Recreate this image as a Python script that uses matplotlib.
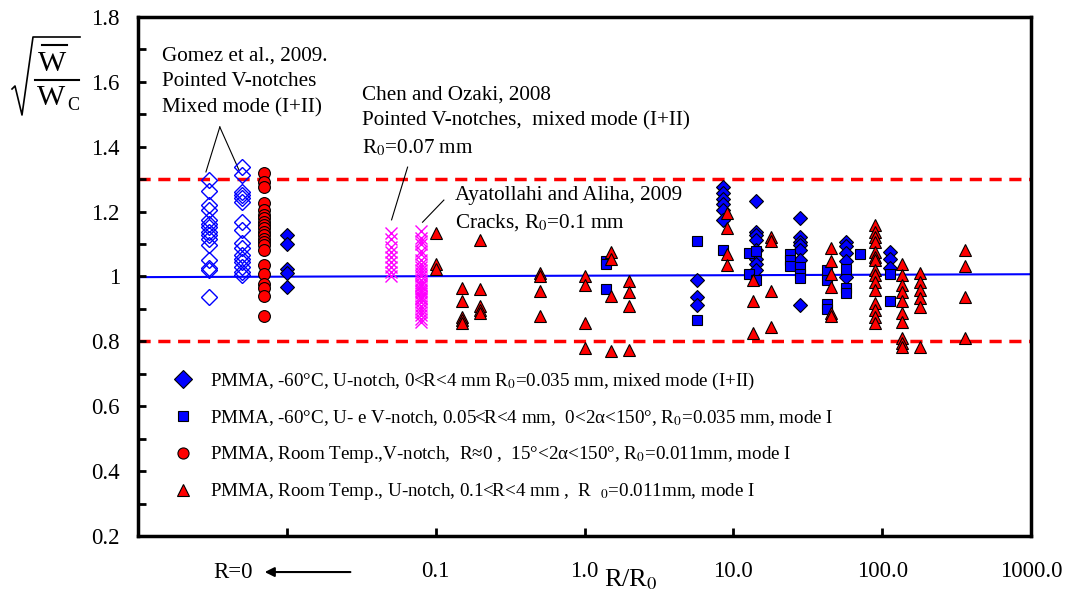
import numpy as np
import matplotlib.pyplot as plt
from matplotlib.lines import Line2D

plt.rcParams['font.family'] = ['Liberation Serif', 'DejaVu Serif']
plt.rcParams['mathtext.fontset'] = 'stix'

# --- data (x = R/R0, columns of sqrt(W/Wc) values) ---
# Gomez et al. 2009, pointed V-notches (plotted in the R=0 region)
gomez_cols = [0.003, 0.005]
gomez_vals = [
    [1.298, 1.265, 1.22, 1.205, 1.174, 1.163, 1.153, 1.138, 1.127, 1.117, 1.096, 1.05, 1.019, 1.025, 0.937],
    [1.337, 1.313, 1.261, 1.251, 1.241, 1.231, 1.169, 1.143, 1.102, 1.089, 1.066, 1.055, 1.044, 1.03, 1.014, 1.004],
]

# PMMA room temp, V-notch R~0 (circles)
circ_cols = [0.007]
circ_vals = [
    [1.318, 1.292, 1.277, 1.226, 1.205, 1.19, 1.179, 1.169, 1.159, 1.148, 1.138, 1.127, 1.117,
     1.107, 1.096, 1.081, 1.035, 1.009, 0.978, 0.963, 0.941, 0.879],
]

# Chen and Ozaki 2008 / Ayatollahi and Aliha 2009 (crosses)
cross_cols = [0.05, 0.08]
cross_vals = [
    [1.135, 1.117, 1.091, 1.076, 1.06, 1.044, 1.03, 1.014, 1.0],
    [1.14, 1.12, 1.11, 1.10, 1.08, 1.07, 1.05, 1.04, 1.03, 1.02, 1.01, 1.00, 0.99, 0.98, 0.975,
     0.97, 0.96, 0.955, 0.95, 0.94, 0.935, 0.93, 0.92, 0.91, 0.90, 0.89, 0.88, 0.87, 0.86],
]

# PMMA -60C, U-notch, mixed mode (filled diamonds)
diam_cols = [0.01, 5.7, 8.5, 14.3, 28, 56.8, 112]
diam_vals = [
    [1.128, 1.1, 1.022, 1.011, 0.967],
    [0.989, 0.936, 0.911],
    [1.277, 1.256, 1.238, 1.222, 1.205, 1.174],
    [1.233, 1.138, 1.127, 1.112, 1.081, 1.055, 1.04, 1.019],
    [1.181, 1.122, 1.107, 1.097, 1.081, 1.05, 0.912],
    [1.107, 1.093, 1.071, 1.048, 0.999],
    [1.076, 1.055, 1.025],
]

# PMMA -60C, U- and V-notch, mode I (squares)
sq_cols = [1.4, 5.7, 8.5, 12.7, 14.3, 24, 28, 42.5, 56.8, 71, 112]
sq_vals = [
    [1.048, 1.037, 0.961],
    [1.109, 0.867],
    [1.081],
    [1.073, 1.009],
    [1.08, 0.99],
    [1.069, 1.05, 1.031],
    [1.03, 1.009, 0.994],
    [1.019, 0.989, 0.914, 0.9],
    [1.022, 0.963, 0.95],
    [1.068],
    [1.009, 0.925],
]

# PMMA room temp, U-notch (triangles)
tri_cols = [0.1, 0.15, 0.2, 0.5, 1.0, 1.5, 2.0, 9.1, 13.5, 18, 45.5, 90, 135, 179, 358]
tri_vals = [
    [1.134, 1.038, 1.022],
    [0.965, 0.924, 0.876, 0.866, 0.857],
    [1.112, 0.961, 0.908, 0.896, 0.889],
    [1.012, 1.002, 0.955, 0.879],
    [1.001, 0.973, 0.856, 0.781],
    [1.076, 1.055, 0.941, 0.77],
    [0.986, 0.953, 0.908, 0.773],
    [1.195, 1.148, 1.069, 1.035],
    [0.989, 0.925, 0.825],
    [1.122, 1.109, 0.956, 0.845],
    [1.089, 1.048, 1.009, 0.967, 0.886, 0.878],
    [1.16, 1.138, 1.122, 1.107, 1.076, 1.06, 1.05, 1.019, 1.004, 0.984, 0.959, 0.918, 0.897, 0.876, 0.856],
    [1.04, 1.004, 0.973, 0.953, 0.926, 0.886, 0.861, 0.81, 0.794, 0.782],
    [1.011, 0.984, 0.959, 0.933, 0.907, 0.782],
    [1.081, 1.031, 0.938, 0.81],
]

band_upper = 1.3
band_lower = 0.8
trend_x = [0.001, 1000]
trend_y = [0.998, 1.007]

x_ticks = [0.01, 0.1, 1, 10, 100, 1000]
x_ticklabels = ['', '0.1', '1.0', '10.0', '100.0', '1000.0']
y_ticks = [0.2, 0.4, 0.6, 0.8, 1.0, 1.2, 1.4, 1.6, 1.8]
y_ticklabels = ['0.2', '0.4', '0.6', '0.8', '1', '1.2', '1.4', '1.6', '1.8']

legend_labels = [
    'PMMA, -60°C, U-notch, 0<R<4 mm R$_0$=0.035 mm, mixed mode (I+II)',
    'PMMA, -60°C, U- e V-notch, 0.05<R<4 mm,  0<2α<150°, R$_0$=0.035 mm, mode I',
    'PMMA, Room Temp.,V-notch,  R≈0 ,  15°<2α<150°, R$_0$=0.011mm, mode I',
    'PMMA, Room Temp., U-notch, 0.1<R<4 mm ,  R  $_0$=0.011mm, mode I',
]


def expand(cols, vals):
    xs = np.concatenate([[c] * len(v) for c, v in zip(cols, vals)])
    ys = np.concatenate(vals)
    return xs, ys


W, H = 1067, 599


def px(xp, yp):
    # pixel position -> figure fraction
    return np.asarray(xp) / W, 1 - np.asarray(yp) / H


fig = plt.figure(figsize=(10.67, 5.99), dpi=100)
ax = fig.add_axes([0.1293, 0.1052, 0.837, 0.8664])

ax.axhline(band_upper, color='#ff0000', lw=2.5, ls=(0, (3.5, 2.2)), zorder=1)
ax.axhline(band_lower, color='#ff0000', lw=2.5, ls=(0, (3.5, 2.2)), zorder=1)
ax.plot(trend_x, trend_y, color='#0000ff', lw=1.5, zorder=1)

x, y = expand(gomez_cols, gomez_vals)
ax.plot(x, y, ls='none', marker='D', ms=8, mfc='none', mec='#0000ff', mew=1.0, zorder=3)
x, y = expand(cross_cols, cross_vals)
ax.plot(x, y, ls='none', marker='x', ms=8, mec='#ff00ff', mew=1.0, zorder=3)
x, y = expand(circ_cols, circ_vals)
ax.plot(x, y, ls='none', marker='o', ms=8.5, mfc='#ff0000', mec='black', mew=0.8, zorder=3)
x, y = expand(diam_cols, diam_vals)
ax.plot(x, y, ls='none', marker='D', ms=7.3, mfc='#0000ff', mec='black', mew=0.8, zorder=4)
x, y = expand(sq_cols, sq_vals)
ax.plot(x, y, ls='none', marker='s', ms=7.5, mfc='#0000ff', mec='black', mew=0.8, zorder=4)
x, y = expand(tri_cols, tri_vals)
ax.plot(x, y, ls='none', marker='^', ms=9, mfc='#ff0000', mec='black', mew=0.8, zorder=5)

ax.set_xscale('log')
ax.set_xlim(0.001, 1000)
ax.set_ylim(0.2, 1.8)
ax.set_xticks(x_ticks)
ax.set_xticklabels(x_ticklabels, fontsize=16.5)
ax.xaxis.set_minor_locator(plt.NullLocator())
ax.set_yticks(y_ticks)
ax.set_yticklabels(y_ticklabels, fontsize=16.5)
ax.set_yticks(np.arange(0.3, 1.8, 0.2), minor=True)
ax.tick_params(axis='both', which='both', direction='in', length=6, width=2)
ax.tick_params(axis='x', pad=18)
ax.tick_params(axis='y', pad=13)
for s in ax.spines.values():
    s.set_linewidth(2.5)

# y label: sqrt(W-bar / W_C), radical and bars drawn as lines
rx, ry = px([12, 15, 22, 33, 80], [89, 86, 115, 37, 37])
fig.add_artist(Line2D(rx, ry, color='black', lw=1.2))
ox, oy = px([42, 67], [45, 45])
fig.add_artist(Line2D(ox, oy, color='black', lw=1.5))
bx, by = px([35, 79], [80, 80])
fig.add_artist(Line2D(bx, by, color='black', lw=1.5))
tx, ty = px(52, 64)
fig.text(tx, ty, 'W', fontsize=21.5, ha='center', va='center')
tx, ty = px(51, 98)
fig.text(tx, ty, 'W', fontsize=21.5, ha='center', va='center')
tx, ty = px(67, 106)
fig.text(tx, ty, 'C', fontsize=13, ha='left', va='center')

fig.text(0.591, 0.032, r'R/R$_0$', fontsize=19, ha='center', va='center')
fig.text(0.218, 0.045, 'R=0', fontsize=16.5, ha='center', va='center')
ax.annotate('', xy=(0.2455, 0.045), xytext=(0.331, 0.045), xycoords='figure fraction',
            arrowprops=dict(arrowstyle='-|>', color='black', lw=1.5, mutation_scale=14))

# annotations
ax.text(0.152, 0.863, 'Gomez et al., 2009.\nPointed V-notches\nMixed mode (I+II)',
        transform=fig.transFigure, fontsize=15.2, va='center', ha='left', linespacing=1.5)
ax.plot([0.206, 0.193], [0.788, 0.713], color='black', lw=0.8, transform=fig.transFigure)
ax.plot([0.206, 0.224], [0.788, 0.716], color='black', lw=0.8, transform=fig.transFigure)

ax.text(0.339, 0.797, 'Chen and Ozaki, 2008\nPointed V-notches,  mixed mode (I+II)\nR$_0$=0.07 mm',
        transform=fig.transFigure, fontsize=15.2, va='center', ha='left', linespacing=1.45)
ax.plot([0.382, 0.367], [0.721, 0.633], color='black', lw=0.8, transform=fig.transFigure)

ax.text(0.426, 0.650, 'Ayatollahi and Aliha, 2009\nCracks, R$_0$=0.1 mm',
        transform=fig.transFigure, fontsize=15.2, va='center', ha='left', linespacing=1.45)
ax.plot([0.416, 0.396], [0.666, 0.629], color='black', lw=0.8, transform=fig.transFigure)

handles = [
    Line2D([], [], ls='none', marker='D', ms=9, mfc='#0000ff', mec='black', mew=0.8),
    Line2D([], [], ls='none', marker='s', ms=7.5, mfc='#0000ff', mec='black', mew=0.8),
    Line2D([], [], ls='none', marker='o', ms=8, mfc='#ff0000', mec='black', mew=0.8),
    Line2D([], [], ls='none', marker='^', ms=8, mfc='#ff0000', mec='black', mew=0.8),
]
leg = ax.legend(handles, legend_labels, loc='upper left', bbox_to_anchor=(0.040, 0.318),
                frameon=False, fontsize=13.7, handlelength=1.0, handletextpad=0.92,
                labelspacing=0.85, borderaxespad=0, borderpad=0)

fig.savefig('out.png', dpi=100)
